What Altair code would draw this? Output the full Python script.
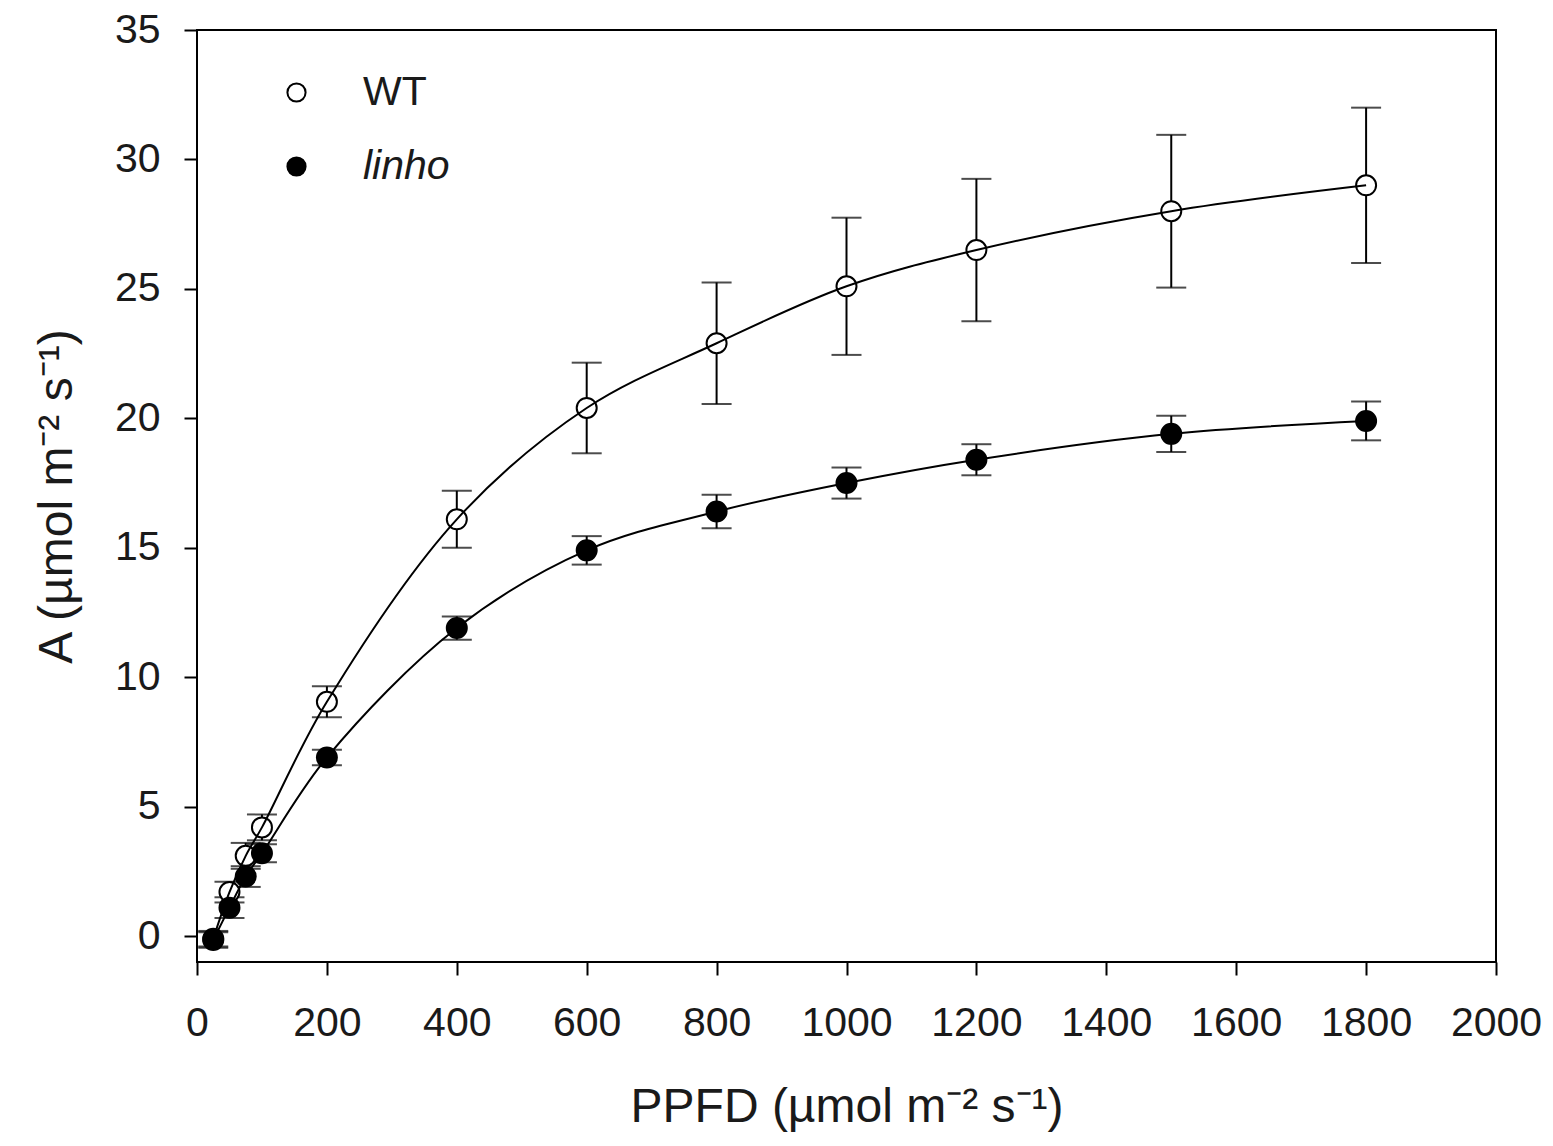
import altair as alt
import pandas as pd

# ---- data ----
ppfd = [25, 50, 75, 100, 200, 400, 600, 800, 1000, 1200, 1500, 1800]
wt_mean = [-0.1, 1.7, 3.1, 4.2, 9.05, 16.1, 20.4, 22.9, 25.1, 26.5, 28.0, 29.0]
wt_err = [0.3, 0.4, 0.5, 0.5, 0.6, 1.1, 1.75, 2.35, 2.65, 2.75, 2.95, 3.0]
linho_mean = [-0.15, 1.1, 2.3, 3.2, 6.9, 11.9, 14.9, 16.4, 17.5, 18.4, 19.4, 19.9]
linho_err = [0.3, 0.4, 0.4, 0.35, 0.3, 0.45, 0.55, 0.65, 0.6, 0.6, 0.7, 0.75]
series_names = ["WT", "linho"]
x_ticks = [0, 200, 400, 600, 800, 1000, 1200, 1400, 1600, 1800, 2000]
y_ticks = [0, 5, 10, 15, 20, 25, 30, 35]

rows = []
for name, means, errs in [("WT", wt_mean, wt_err), ("linho", linho_mean, linho_err)]:
    for p, m, e in zip(ppfd, means, errs):
        rows.append({"PPFD": p, "A": m, "lo": m - e, "hi": m + e, "series": name})
df = pd.DataFrame(rows)

FONT = "Liberation Sans"
TXT = "#1a1a1a"

x_enc = alt.X(
    "PPFD:Q",
    scale=alt.Scale(domain=[0, 2000], nice=False, zero=False),
    axis=alt.Axis(values=x_ticks, title="PPFD (µmol m⁻² s⁻¹)", labelFlush=False,
                  labelOverlap=False, labelPadding=28, titlePadding=40, format="d"),
)
y_enc = alt.Y(
    "A:Q",
    scale=alt.Scale(domain=[-1, 35], nice=False, zero=False),
    axis=alt.Axis(values=y_ticks, title="A (µmol m⁻² s⁻¹)", labelFlush=False,
                  labelOverlap=False, labelPadding=24, titlePadding=33, format="d"),
)

base = alt.Chart(df)

axis_layer = base.mark_point(opacity=0).encode(x=x_enc, y=y_enc)

bars = base.mark_rule(color="black", strokeWidth=2).encode(
    x="PPFD:Q", y="lo:Q", y2="hi:Q", detail="series:N"
)
cap_lo = base.mark_tick(orient="horizontal", size=30, thickness=2, color="black").encode(
    x="PPFD:Q", y="lo:Q"
)
cap_hi = base.mark_tick(orient="horizontal", size=30, thickness=2, color="black").encode(
    x="PPFD:Q", y="hi:Q"
)

points = base.mark_point(shape="circle", size=400, filled=True, stroke="black",
                         strokeWidth=2, opacity=1).encode(
    x="PPFD:Q",
    y="A:Q",
    fill=alt.Fill(
        "series:N",
        scale=alt.Scale(domain=series_names, range=["white", "black"]),
        sort=series_names,
        legend=alt.Legend(
            orient="none", legendX=79, legendY=42, title=None,
            labelFont=FONT, labelFontSize=41, labelColor=TXT,
            labelFontStyle={"expr": "datum.label == 'linho' ? 'italic' : 'normal'"},
            symbolType="circle", symbolSize=330, symbolStrokeWidth=2,
            symbolStrokeColor="black", symbolOpacity=1,
            labelOffset=46, rowPadding=32, padding=0,
        ),
    ),
)

line = base.mark_line(interpolate="catmull-rom", color="black", strokeWidth=2).encode(
    x="PPFD:Q", y="A:Q", detail="series:N"
)

chart = (
    alt.layer(axis_layer, bars, cap_lo, cap_hi, points, line)
    .properties(
        width=1299, height=932,
        autosize=alt.AutoSizeParams(type="none"),
        padding={"left": 189, "top": 22, "right": 49, "bottom": 176},
        background="white",
    )
    .configure_view(stroke="black", strokeWidth=2)
    .configure_axis(
        grid=False, domain=False, tickColor="black", tickWidth=2, tickSize=13,
        labelFont=FONT, labelFontSize=41, labelColor=TXT,
        titleFont=FONT, titleFontSize=48, titleFontWeight="normal", titleColor=TXT,
    )
)

chart.save("out.html", embed_options={"renderer": "svg", "actions": False})
